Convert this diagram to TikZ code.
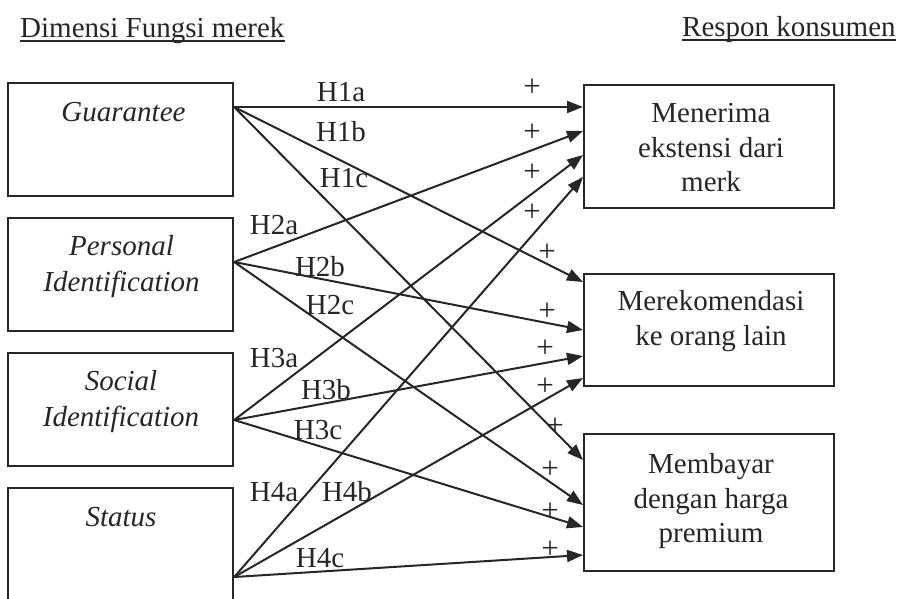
\documentclass[tikz,border=0pt]{standalone}
\usepackage{fontspec}
\setmainfont{Liberation Serif}
\usetikzlibrary{arrows.meta}
\definecolor{ink}{HTML}{262626}
\begin{document}
\begin{tikzpicture}[x=1pt,y=-1pt,
  every node/.style={text=ink, inner sep=0pt},
  box/.style={draw=ink, line width=2.2pt, anchor=north west},
  lbl/.style={font=\fontsize{29pt}{36pt}\selectfont\itshape, align=center, anchor=north},
  rlbl/.style={font=\fontsize{29pt}{34.5pt}\selectfont, align=center, anchor=north},
  hyp/.style={font=\fontsize{29pt}{34pt}\selectfont},
  plus/.style={font=\fontsize{31pt}{34pt}\selectfont},
  link/.style={draw=ink, line width=2pt, -{Triangle[length=16pt,width=12pt]}},
  uline/.style={draw=ink, line width=1.6pt}
]
\useasboundingbox (0,0) rectangle (905,598);
\clip (0,0) rectangle (905,598);

% titles
\node[hyp, anchor=base west] (t1) at (20,37) {Dimensi Fungsi merek};
\node[hyp, anchor=base west] (t2) at (682,36) {Respon konsumen};
\draw[uline] ([yshift=-4pt]t1.base west) -- ([yshift=-4pt]t1.base east);
\draw[uline] ([yshift=-4pt]t2.base west) -- ([yshift=-4pt]t2.base east);

% boxes
\node[box, minimum width=225pt, minimum height=113pt] (g)  at (7,82)  {};
\node[box, minimum width=225pt, minimum height=113pt] (p)  at (7,217) {};
\node[box, minimum width=225pt, minimum height=113pt] (s)  at (7,352) {};
\node[box, minimum width=225pt, minimum height=130pt] (st) at (7,487) {};
\node[box, minimum width=250pt, minimum height=123pt] (r1) at (583,84)  {};
\node[box, minimum width=250pt, minimum height=112pt] (r2) at (583,273) {};
\node[box, minimum width=250pt, minimum height=137pt] (r3) at (583,433) {};

% box texts
\node[lbl] (gt)  at (123.5,102.3) {Guarantee};
\node[lbl] (pt)  at (121.5,235.3) {Personal\\Identification};
\node[lbl] (sxt) at (121,370.3)   {Social\\Identification};
\node[lbl] (stt) at (121,507.3)   {Status};
\node[rlbl] (r1t) at (711,103.3) {Menerima\\ekstensi dari\\merk};
\node[rlbl] (r2t) at (711,290.3) {Merekomendasi\\ke orang lain};
\node[rlbl] (r3t) at (711,453.3) {Membayar\\dengan harga\\premium};

% source points
\coordinate (gs)  at ([yshift=-25pt]g.north east);
\coordinate (ps)  at ([yshift=-45pt]p.north east);
\coordinate (ss)  at ([yshift=-68pt]s.north east);
\coordinate (sts) at ([yshift=-90pt]st.north east);

% connectors
\draw[link] (gs)  -- ([yshift=-23pt]r1.north west);
\draw[link] (gs)  -- ([yshift=-9pt]r2.north west);
\draw[link] (gs)  -- ([yshift=-27pt]r3.north west);
\draw[link] (ps)  -- ([yshift=-47pt]r1.north west);
\draw[link] (ps)  -- ([yshift=-57pt]r2.north west);
\draw[link] (ps)  -- ([yshift=-72pt]r3.north west);
\draw[link] (ss)  -- ([yshift=-71pt]r1.north west);
\draw[link] (ss)  -- ([yshift=-83pt]r2.north west);
\draw[link] (ss)  -- ([yshift=-94pt]r3.north west);
\draw[link] (sts) -- ([yshift=-93pt]r1.north west);
\draw[link] (sts) -- ([yshift=-105pt]r2.north west);
\draw[link] (sts) -- ([yshift=-122pt]r3.north west);

% hypothesis labels
\node[hyp] (h1a) at (341,92)  {H1a};
\node[hyp] (h1b) at (341,132) {H1b};
\node[hyp] (h1c) at (344,178) {H1c};
\node[hyp] (h2a) at (274,225) {H2a};
\node[hyp] (h2b) at (320,267) {H2b};
\node[hyp] (h2c) at (330,305) {H2c};
\node[hyp] (h3a) at (274,358) {H3a};
\node[hyp] (h3b) at (326,390) {H3b};
\node[hyp] (h3c) at (318,430) {H3c};
\node[hyp] (h4a) at (274,492) {H4a};
\node[hyp] (h4b) at (347,492) {H4b};
\node[hyp] (h4c) at (320,558) {H4c};

% plus signs
\node[plus] (p1)  at (532,88)  {+};
\node[plus] (p2)  at (532,133) {+};
\node[plus] (p3)  at (532,173) {+};
\node[plus] (p4)  at (532,213) {+};
\node[plus] (p5)  at (547,253) {+};
\node[plus] (p6)  at (547,312) {+};
\node[plus] (p7)  at (545,349) {+};
\node[plus] (p8)  at (545,387) {+};
\node[plus] (p9)  at (555,427) {+};
\node[plus] (p10) at (550,470) {+};
\node[plus] (p11) at (550,512) {+};
\node[plus] (p12) at (550,550) {+};
\end{tikzpicture}
\end{document}
